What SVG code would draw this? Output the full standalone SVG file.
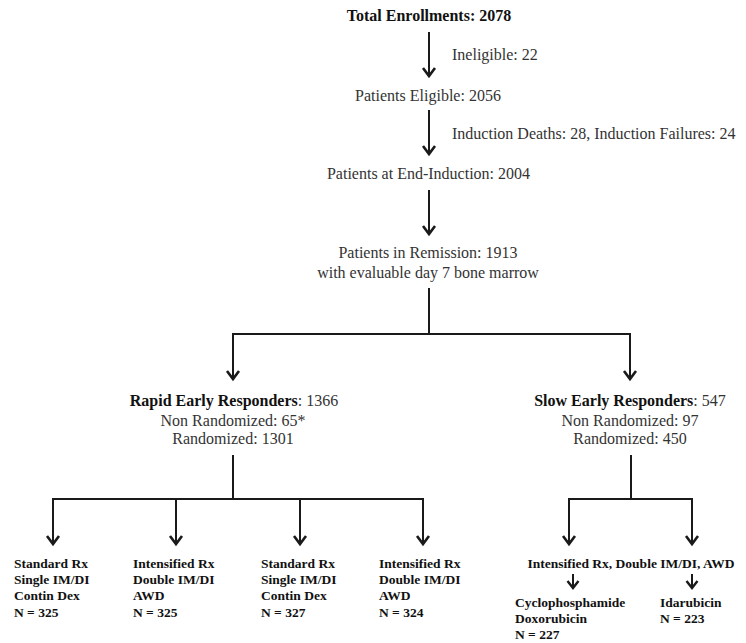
<svg xmlns="http://www.w3.org/2000/svg" width="746" height="643" viewBox="0 0 746 643">
<style>
  .t { font-family: "Liberation Serif", "Times New Roman", serif; font-size: 16px; fill: #333; }
  .b { font-weight: bold; fill: #111; }
  .s { font-family: "Liberation Serif", "Times New Roman", serif; font-size: 13.5px; font-weight: bold; fill: #111; }
  .c { text-anchor: middle; }
  .ln { stroke: #1a1a1a; stroke-width: 2; fill: none; }
</style>
<defs>
  <marker id="ah" markerUnits="userSpaceOnUse" markerWidth="20" markerHeight="20" viewBox="-10 -10 20 20" refX="0" refY="0" orient="auto" overflow="visible">
    <path d="M-8,-6 L0,0 L-8,6" fill="none" stroke="#1a1a1a" stroke-width="2.6" stroke-linejoin="miter"/>
  </marker>
  <marker id="ahs" markerUnits="userSpaceOnUse" markerWidth="20" markerHeight="20" viewBox="-10 -10 20 20" refX="0" refY="0" orient="auto" overflow="visible">
    <path d="M-7,-5.5 L0,0 L-7,5.5" fill="none" stroke="#1a1a1a" stroke-width="2.4" stroke-linejoin="miter"/>
  </marker>
</defs>
<rect width="746" height="643" fill="#fff"/>

<g id="connectors">
  <line class="ln" x1="429" y1="32" x2="429" y2="76" marker-end="url(#ah)"/>
  <line class="ln" x1="429" y1="110" x2="429" y2="154" marker-end="url(#ah)"/>
  <line class="ln" x1="429" y1="190" x2="429" y2="234" marker-end="url(#ah)"/>
  <polyline class="ln" points="429,288 429,334"/>
  <polyline class="ln" points="233,379 233,334 630,334 630,379" />
  <line class="ln" x1="233" y1="360" x2="233" y2="379" marker-end="url(#ah)"/>
  <line class="ln" x1="630" y1="360" x2="630" y2="379" marker-end="url(#ah)"/>
  <polyline class="ln" points="233,455 233,499"/>
  <polyline class="ln" points="53,544 53,499 423,499 423,544"/>
  <line class="ln" x1="53" y1="520" x2="53" y2="544" marker-end="url(#ah)"/>
  <line class="ln" x1="176" y1="499" x2="176" y2="544" marker-end="url(#ah)"/>
  <line class="ln" x1="300" y1="499" x2="300" y2="544" marker-end="url(#ah)"/>
  <line class="ln" x1="423" y1="520" x2="423" y2="544" marker-end="url(#ah)"/>
  <polyline class="ln" points="631,455 631,499"/>
  <polyline class="ln" points="569,544 569,499 692,499 692,544"/>
  <line class="ln" x1="569" y1="520" x2="569" y2="544" marker-end="url(#ah)"/>
  <line class="ln" x1="692" y1="520" x2="692" y2="544" marker-end="url(#ah)"/>
  <line class="ln" x1="573" y1="574" x2="573" y2="588" marker-end="url(#ahs)"/>
  <line class="ln" x1="692" y1="574" x2="692" y2="588" marker-end="url(#ahs)"/>
</g>

<g id="total"><text class="t b c" x="429" y="21">Total Enrollments: 2078</text></g>
<g id="ineligible"><text class="t" x="452" y="60">Ineligible: 22</text></g>
<g id="eligible"><text class="t c" x="428" y="101">Patients Eligible: 2056</text></g>
<g id="induction-loss"><text class="t" x="452" y="139">Induction Deaths: 28, Induction Failures: 24</text></g>
<g id="end-induction"><text class="t c" x="428.5" y="179">Patients at End-Induction: 2004</text></g>
<g id="remission">
  <text class="t c" x="428" y="258">Patients in Remission: 1913</text>
  <text class="t c" x="428" y="278">with evaluable day 7 bone marrow</text>
</g>
<g id="rer">
  <text class="t c" x="234" y="406"><tspan class="b">Rapid Early Responders</tspan>: 1366</text>
  <text class="t c" x="233" y="426">Non Randomized: 65*</text>
  <text class="t c" x="233" y="444">Randomized: 1301</text>
</g>
<g id="ser">
  <text class="t c" x="630" y="406"><tspan class="b">Slow Early Responders</tspan>: 547</text>
  <text class="t c" x="630" y="426">Non Randomized: 97</text>
  <text class="t c" x="630" y="444">Randomized: 450</text>
</g>
<g id="arm1">
  <text class="s" x="14" y="568">Standard Rx</text>
  <text class="s" x="14" y="584">Single IM/DI</text>
  <text class="s" x="14" y="600">Contin Dex</text>
  <text class="s" x="14" y="617">N = 325</text>
</g>
<g id="arm2">
  <text class="s" x="133" y="568">Intensified Rx</text>
  <text class="s" x="133" y="584">Double IM/DI</text>
  <text class="s" x="133" y="600">AWD</text>
  <text class="s" x="133" y="617">N = 325</text>
</g>
<g id="arm3">
  <text class="s" x="261" y="568">Standard Rx</text>
  <text class="s" x="261" y="584">Single IM/DI</text>
  <text class="s" x="261" y="600">Contin Dex</text>
  <text class="s" x="261" y="617">N = 327</text>
</g>
<g id="arm4">
  <text class="s" x="379" y="568">Intensified Rx</text>
  <text class="s" x="379" y="584">Double IM/DI</text>
  <text class="s" x="379" y="600">AWD</text>
  <text class="s" x="379" y="617">N = 324</text>
</g>
<g id="ser-arm"><text class="s c" x="631" y="568">Intensified Rx, Double IM/DI, AWD</text></g>
<g id="ser-cd">
  <text class="s" x="515" y="607">Cyclophosphamide</text>
  <text class="s" x="515" y="623">Doxorubicin</text>
  <text class="s" x="515" y="639">N = 227</text>
</g>
<g id="ser-ida">
  <text class="s" x="660" y="607">Idarubicin</text>
  <text class="s" x="660" y="623">N = 223</text>
</g>
</svg>
